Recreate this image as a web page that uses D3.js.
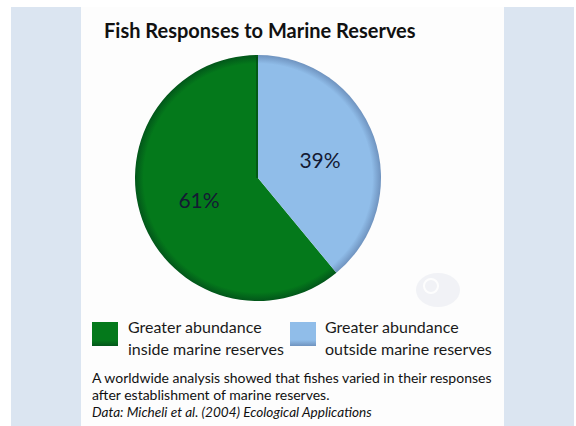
<!DOCTYPE html>
<html>
<head>
<meta charset="utf-8">
<script src="https://cdn.jsdelivr.net/npm/d3@7"></script>
<style>
  html, body { margin: 0; padding: 0; background: #fff; }
  svg { display: block; font-family: Lato, "Open Sans", sans-serif; }
</style>
</head>
<body>
<svg id="chart" width="576" height="426"></svg>
<script>
'use strict'

// data
var categories = ["inside", "outside"],
    values = [61, 39],
    labels = ["61%", "39%"],
    legendLines = [
      ["Greater abundance", "inside marine reserves"],
      ["Greater abundance", "outside marine reserves"]
    ],
    colors = ["#04791b", "#90bde9"],
    rimColors = ["#02561a", "#6f93bf"],
    title = "Fish Responses to Marine Reserves",
    notes = [
      "A worldwide analysis showed that fishes varied in their responses",
      "after establishment of marine reserves."
    ],
    source = "Data: Micheli et al. (2004)  Ecological Applications";

var width = 576,
    height = 426,
    cx = 258,
    cy = 178,
    radius = 123;

var svg = d3.select("#chart");
var defs = svg.append("defs");

// background + panel
svg.append("rect").attr("x", 11).attr("y", 7).attr("width", 563).attr("height", 419).attr("fill", "#dbe5f1");
svg.append("rect").attr("x", 81).attr("y", 7).attr("width", 423).attr("height", 419).attr("fill", "#fdfdfd");

svg.append("text")
    .attr("x", 104).attr("y", 38)
    .attr("font-size", 20).attr("font-weight", 700).attr("fill", "#111")
    .text(title);

// slice gradients: flat in the middle, darker near the rim
categories.forEach(function(c, i) {
  var g = defs.append("radialGradient").attr("id", "grad-" + c)
      .attr("gradientUnits", "userSpaceOnUse")
      .attr("cx", 0).attr("cy", 0).attr("r", radius);
  g.append("stop").attr("offset", "0.93").attr("stop-color", colors[i]);
  g.append("stop").attr("offset", "1").attr("stop-color", rimColors[i]);

  var lg = defs.append("linearGradient").attr("id", "leg-" + c)
      .attr("x1", 0).attr("y1", 0).attr("x2", 0).attr("y2", 1);
  lg.append("stop").attr("offset", "0").attr("stop-color", colors[i]);
  lg.append("stop").attr("offset", "0.75").attr("stop-color", colors[i]);
  lg.append("stop").attr("offset", "1").attr("stop-color", rimColors[i]);
});

var total = d3.sum(values);
var pie = d3.pie().sort(null)
    .startAngle(-2 * Math.PI * values[0] / total)
    .endAngle(2 * Math.PI * (1 - values[0] / total));
var arc = d3.arc().innerRadius(0).outerRadius(radius);

var arcs = pie(values);

var g = svg.append("g").attr("transform", "translate(" + cx + "," + cy + ")");

g.selectAll("path.slice")
  .data(arcs)
  .enter().append("path")
    .attr("class", "slice")
    .attr("d", arc)
    .attr("fill", function(d, i) { return "url(#grad-" + categories[i] + ")"; });

// soft shadow along the divider on the green side
g.append("line")
    .attr("x1", -1).attr("y1", -radius + 2).attr("x2", -1).attr("y2", 0)
    .attr("stroke", "#013d12").attr("stroke-width", 2).attr("opacity", 0.5);

var labelPos = [[-59, 30], [62, -10]];
g.selectAll("text.pct")
  .data(arcs)
  .enter().append("text")
    .attr("class", "pct")
    .attr("x", function(d, i) { return labelPos[i][0]; })
    .attr("y", function(d, i) { return labelPos[i][1]; })
    .attr("text-anchor", "middle")
    .attr("font-size", 21)
    .attr("fill", "#141a33")
    .text(function(d, i) { return labels[i]; });

// faint watermark logo
var wm = svg.append("g").attr("transform", "translate(438,290)").attr("opacity", 0.45);
wm.append("ellipse").attr("rx", 22).attr("ry", 17).attr("fill", "#e3e6ee");
wm.append("circle").attr("cx", -7).attr("cy", -4).attr("r", 7).attr("fill", "none").attr("stroke", "#fff").attr("stroke-width", 2);

// legend
var legX = [92, 290],
    textX = [128, 325];
var leg = svg.selectAll("g.leg")
  .data(categories)
  .enter().append("g").attr("class", "leg");

leg.append("rect")
    .attr("x", function(d, i) { return legX[i]; })
    .attr("y", 322)
    .attr("width", 26).attr("height", 24)
    .attr("fill", function(d) { return "url(#leg-" + d + ")"; });

leg.each(function(d, i) {
  d3.select(this).selectAll("text")
    .data(legendLines[i])
    .enter().append("text")
      .attr("x", textX[i])
      .attr("y", function(t, j) { return 333 + j * 22; })
      .attr("font-size", 16)
      .attr("fill", "#1a1a1a")
      .text(function(t) { return t; });
});

svg.selectAll("text.note")
  .data(notes)
  .enter().append("text")
    .attr("class", "note")
    .attr("x", 92)
    .attr("y", function(d, i) { return 383 + i * 17; })
    .attr("font-size", 14)
    .attr("fill", "#111")
    .text(function(d) { return d; });

svg.append("text")
    .attr("x", 92).attr("y", 417)
    .attr("font-size", 13.6).attr("font-style", "italic").attr("fill", "#111")
    .text(source);
</script>
</body>
</html>
